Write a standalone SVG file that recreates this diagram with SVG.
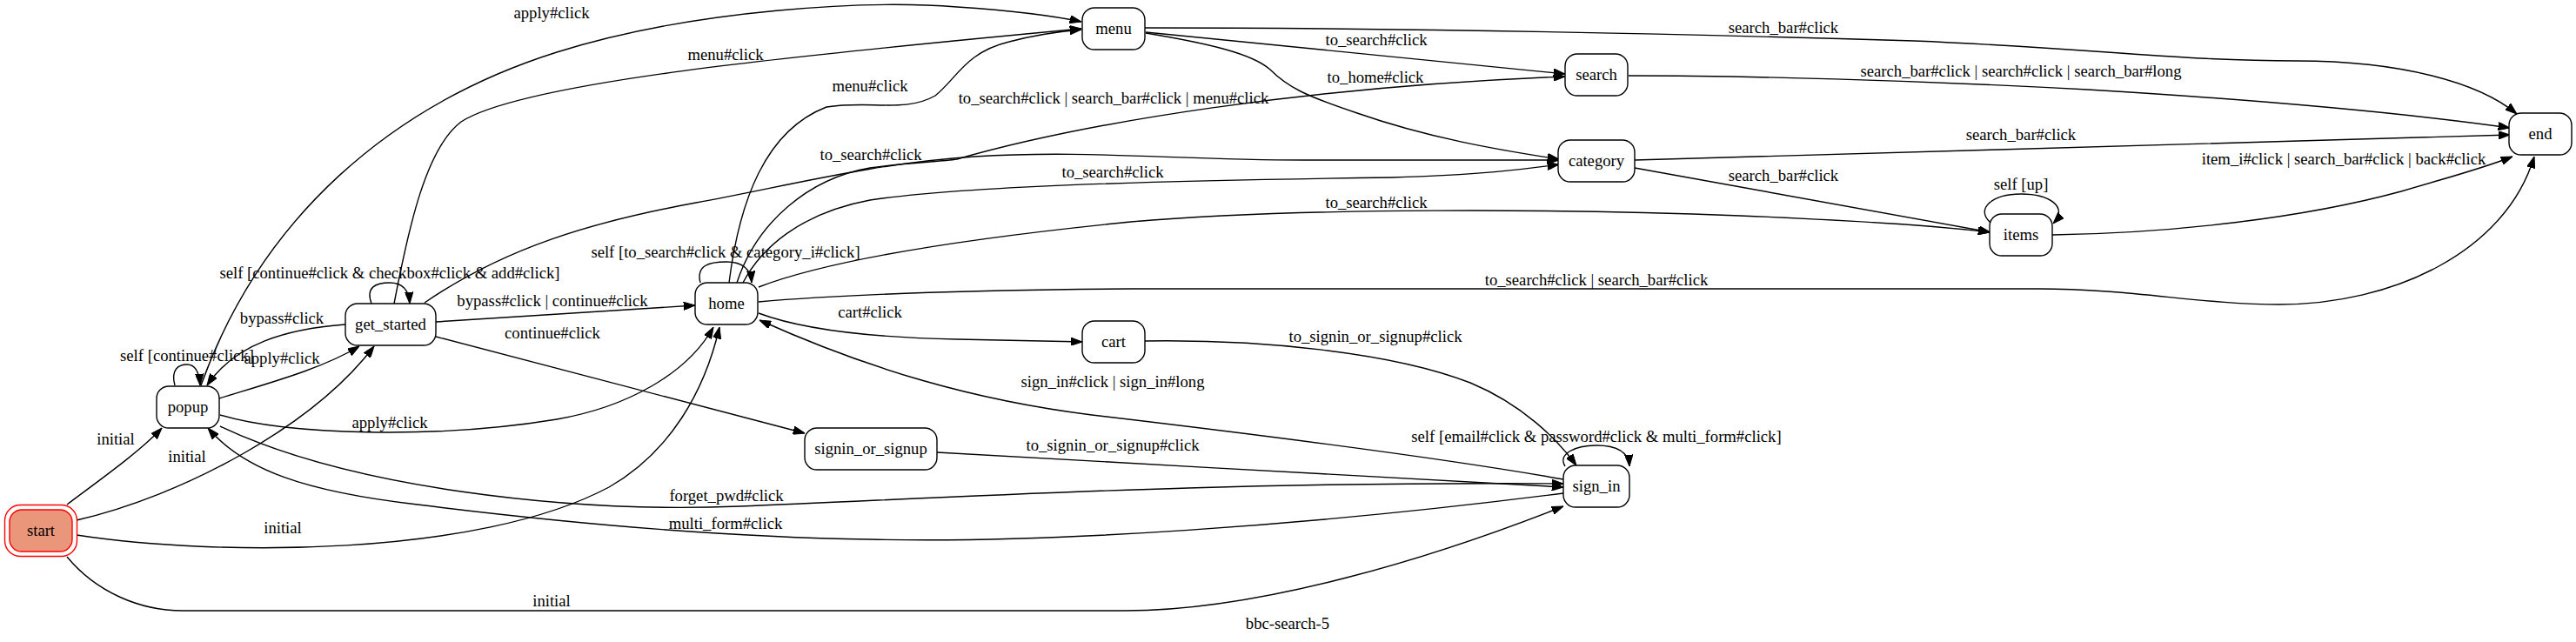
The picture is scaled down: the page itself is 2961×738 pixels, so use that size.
<svg xmlns="http://www.w3.org/2000/svg" width="2961" height="738" viewBox="0 0 2961 738">
<style>
text{font-family:"Liberation Serif","Times New Roman",serif;font-size:18.67px;fill:#000;text-anchor:middle}
.n{fill:#fff;stroke:#000;stroke-width:1.4}
.e path{fill:none;stroke:#000;stroke-width:1.4;marker-end:url(#ah)}
</style>
<defs>
<marker id="ah" viewBox="0 0 13.3 9.4" refX="13.3" refY="4.7" markerWidth="13.3" markerHeight="9.4" markerUnits="userSpaceOnUse" orient="auto"><path d="M0,0 L13.3,4.7 L0,9.4 z" fill="#000" stroke="#000" stroke-width="1"/></marker>
</defs>
<rect width="2961" height="738" fill="#fff"/>
<g id="connectors" class="e">
<path id="e-start-popup" d="M77,580 C110,555 160,520 186,492"/>
<path id="e-start-get_started" d="M88,598 C210,570 360,490 430,398"/>
<path id="e-start-home" d="M88,615 C250,640 550,640 700,560 C770,520 810,450 827,376"/>
<path id="e-start-sign_in" d="M77,640 C110,680 160,702 210,702 L1293,702 C1450,702 1650,640 1797,582"/>
<path id="e-popup-self" d="M201,443 C196,425 205,419 215,419 C224,419 229,427 230,443"/>
<path id="e-popup-get_started" d="M252,458 C310,440 370,424 413,398"/>
<path id="e-popup-home" d="M253,477 C330,500 500,505 640,482 C720,468 790,430 820,376"/>
<path id="e-popup-menu" d="M231,443 C300,250 450,120 640,60 C800,10 1000,0 1100,8 C1160,12 1210,18 1243,25"/>
<path id="e-popup-sign_in" d="M253,490 C400,560 650,590 850,582 C1100,572 1400,553 1797,556"/>
<path id="e-sign_in-popup" d="M1797,567 C1500,605 1200,625 1000,620 C800,617 600,595 480,580 C350,565 280,540 239,492"/>
<path id="e-get_started-self" d="M427,349 C420,330 432,325 448,325 C462,325 470,333 471,349"/>
<path id="e-get_started-popup" d="M397,373 C330,378 270,395 238,443"/>
<path id="e-get_started-home" d="M501,370 L799,351"/>
<path id="e-get_started-signin" d="M501,387 L925,498"/>
<path id="e-get_started-menu" d="M453,349 C470,260 490,170 530,140 C600,95 900,65 1243,33"/>
<path id="e-get_started-category" d="M488,348 C580,285 680,255 800,233 C900,215 1000,188 1120,180 C1250,172 1350,184 1500,184 L1792,184"/>
<path id="e-home-self" d="M805,325 C800,305 815,301 835,301 C855,301 863,310 864,325"/>
<path id="e-home-menu" d="M838,325 C850,230 880,150 950,123 C1000,115 1040,130 1075,110 C1100,90 1110,60 1160,48 C1190,40 1220,36 1243,34"/>
<path id="e-home-search" d="M847,325 C870,255 930,205 1000,193 C1040,187 1080,186 1100,183 C1250,140 1500,100 1799,88"/>
<path id="e-home-category" d="M854,325 C875,285 920,245 1000,230 C1100,215 1300,208 1600,204 C1700,201 1750,195 1792,189"/>
<path id="e-home-items" d="M872,330 C950,300 1100,275 1300,255 C1500,238 1800,240 2000,248 C2150,254 2230,260 2287,267"/>
<path id="e-home-end" d="M872,347 C950,340 1100,333 1300,332 L2343,332 C2450,332 2530,350 2620,350 C2750,350 2880,290 2913,180"/>
<path id="e-home-cart" d="M872,360 C920,378 1000,388 1100,390 C1160,391 1200,392 1244,393"/>
<path id="e-sign_in-home" d="M1797,551 C1650,525 1450,500 1255,477 C1120,460 1000,425 873,368"/>
<path id="e-cart-sign_in" d="M1316,392 C1450,390 1600,405 1690,440 C1750,465 1790,505 1812,535"/>
<path id="e-signin-sign_in" d="M1077,520 C1300,532 1600,550 1797,560"/>
<path id="e-sign_in-self" d="M1799,536 C1790,522 1810,512 1835,512 C1860,512 1872,520 1873,536"/>
<path id="e-menu-search" d="M1317,37 L1799,85"/>
<path id="e-menu-category" d="M1317,38 C1390,50 1440,62 1460,80 C1480,100 1500,110 1560,130 C1640,158 1720,172 1792,183"/>
<path id="e-menu-end" d="M1316,32 C1600,32 1900,38 2200,47 C2400,55 2500,70 2640,70 C2760,70 2850,95 2893,131"/>
<path id="e-search-end" d="M1872,87 C2000,87 2200,92 2400,103 C2600,115 2750,128 2885,147"/>
<path id="e-category-end" d="M1879,184 C2200,175 2600,163 2885,155"/>
<path id="e-category-items" d="M1879,193 L2288,267"/>
<path id="e-items-self" d="M2288,256 C2270,240 2290,223 2323,223 C2356,223 2378,238 2360,257"/>
<path id="e-items-end" d="M2359,270 C2500,268 2650,250 2760,220 C2810,205 2850,195 2888,180"/>
</g>
<g id="edge-labels">
<text x="133" y="511">initial</text>
<text x="215" y="531">initial</text>
<text x="325" y="613">initial</text>
<text x="634" y="697">initial</text>
<text x="215" y="415">self [continue#click]</text>
<text x="324" y="418">apply#click</text>
<text x="448" y="492">apply#click</text>
<text x="634" y="21">apply#click</text>
<text x="835" y="576">forget_pwd#click</text>
<text x="834" y="608">multi_form#click</text>
<text x="448" y="320">self [continue#click &amp; checkbox#click &amp; add#click]</text>
<text x="324" y="372">bypass#click</text>
<text x="635" y="352">bypass#click | continue#click</text>
<text x="635" y="389">continue#click</text>
<text x="834" y="69">menu#click</text>
<text x="1001" y="184">to_search#click</text>
<text x="834" y="296">self [to_search#click &amp; category_i#click]</text>
<text x="1000" y="105">menu#click</text>
<text x="1280" y="119">to_search#click | search_bar#click | menu#click</text>
<text x="1581" y="95">to_home#click</text>
<text x="1279" y="204">to_search#click</text>
<text x="1582" y="239">to_search#click</text>
<text x="1835" y="328">to_search#click | search_bar#click</text>
<text x="1000" y="365">cart#click</text>
<text x="1279" y="445">sign_in#click | sign_in#long</text>
<text x="1581" y="393">to_signin_or_signup#click</text>
<text x="1279" y="518">to_signin_or_signup#click</text>
<text x="1835" y="508">self [email#click &amp; password#click &amp; multi_form#click]</text>
<text x="1582" y="52">to_search#click</text>
<text x="2050" y="38">search_bar#click</text>
<text x="2323" y="88">search_bar#click | search#click | search_bar#long</text>
<text x="2323" y="161">search_bar#click</text>
<text x="2050" y="208">search_bar#click</text>
<text x="2323" y="218">self [up]</text>
<text x="2694" y="189">item_i#click | search_bar#click | back#click</text>
</g>
<g id="start">
<rect x="5.5" y="580.5" width="83" height="59" rx="18" fill="none" stroke="#ff0000" stroke-width="1.4"/>
<rect x="11" y="586" width="72" height="48" rx="14" fill="#e9967a" stroke="#ff0000" stroke-width="1.4"/>
<text x="47" y="616">start</text>
</g>
<g id="popup"><rect class="n" x="180" y="444" width="72" height="48" rx="14"/><text x="216" y="474">popup</text></g>
<g id="get_started"><rect class="n" x="397" y="349" width="104" height="48" rx="14"/><text x="449" y="379">get_started</text></g>
<g id="home"><rect class="n" x="799" y="325" width="72" height="48" rx="14"/><text x="835" y="355">home</text></g>
<g id="signin_or_signup"><rect class="n" x="925" y="492" width="152" height="48" rx="14"/><text x="1001" y="522">signin_or_signup</text></g>
<g id="menu"><rect class="n" x="1244" y="9" width="72" height="48" rx="14"/><text x="1280" y="39">menu</text></g>
<g id="cart"><rect class="n" x="1244" y="369" width="72" height="48" rx="14"/><text x="1280" y="399">cart</text></g>
<g id="search"><rect class="n" x="1799" y="62" width="72" height="48" rx="14"/><text x="1835" y="92">search</text></g>
<g id="category"><rect class="n" x="1791" y="161" width="88" height="48" rx="14"/><text x="1835" y="191">category</text></g>
<g id="sign_in"><rect class="n" x="1797" y="535" width="76" height="48" rx="14"/><text x="1835" y="565">sign_in</text></g>
<g id="items"><rect class="n" x="2287" y="246" width="72" height="48" rx="14"/><text x="2323" y="276">items</text></g>
<g id="end"><rect class="n" x="2884" y="130" width="72" height="48" rx="14"/><text x="2920" y="160">end</text></g>
<text id="title" x="1480" y="723">bbc-search-5</text>
</svg>
